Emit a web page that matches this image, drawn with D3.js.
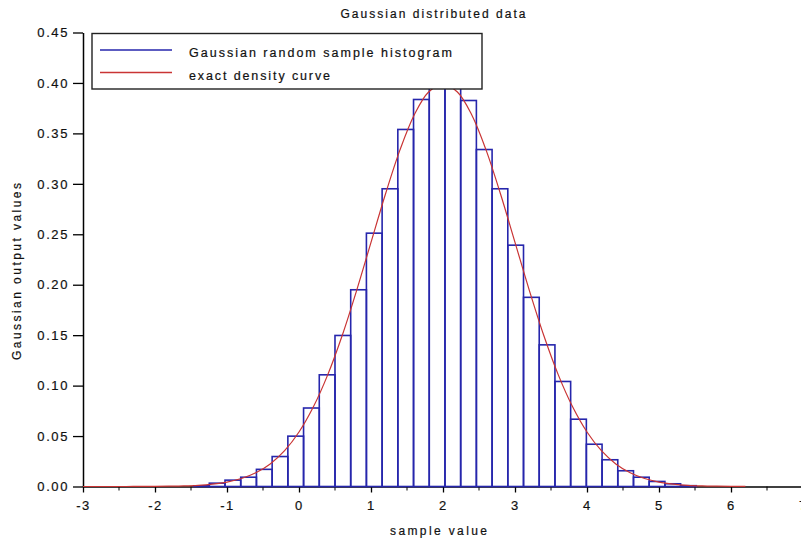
<!DOCTYPE html>
<html>
<head>
<meta charset="utf-8">
<script src="https://cdn.jsdelivr.net/npm/d3@7"></script>
<style>
  body { margin: 0; background: #fff; }
  text { font-family: "Liberation Sans", Arial, sans-serif; fill: #111; stroke: #111; stroke-width: 0.2px; }
</style>
</head>
<body>
<svg id="chart" width="801" height="543"></svg>
<script>
// Histogram of the random sample (density-normalised), equal-width bins
const binStart = -1.464;
const binWidth = 0.2182;
const histDensity = [
  0.0007, 0.0033, 0.0063, 0.0092, 0.0170, 0.0297, 0.0499, 0.0778,
  0.1107, 0.1497, 0.1950, 0.2511, 0.2951, 0.3539, 0.3836, 0.4010,
  0.3975, 0.3826, 0.3340, 0.2951, 0.2392, 0.1875, 0.1404, 0.1041,
  0.0667, 0.0419, 0.0265, 0.0156, 0.0092, 0.0050, 0.0027, 0.0008
];

// Exact normal density (mean 2, sd 1) tabulated for the curve
const curveX = [
  -3, -2.8, -2.6, -2.4, -2.2, -2, -1.8, -1.6, -1.4, -1.2, -1, -0.8, -0.6, -0.4, -0.2,
  0, 0.2, 0.4, 0.6, 0.8, 1, 1.2, 1.4, 1.6, 1.8, 2, 2.2, 2.4, 2.6, 2.8,
  3, 3.2, 3.4, 3.6, 3.8, 4, 4.2, 4.4, 4.6, 4.8, 5, 5.2, 5.4, 5.6, 5.8, 6, 6.2
];
const curveY = [
  0.0000, 0.0000, 0.0000, 0.0000, 0.0001, 0.0001, 0.0003, 0.0006, 0.0012, 0.0024,
  0.0044, 0.0079, 0.0136, 0.0224, 0.0355, 0.0540, 0.0790, 0.1109, 0.1497, 0.1942,
  0.2420, 0.2897, 0.3332, 0.3683, 0.3910, 0.3989, 0.3910, 0.3683, 0.3332, 0.2897,
  0.2420, 0.1942, 0.1497, 0.1109, 0.0790, 0.0540, 0.0355, 0.0224, 0.0136, 0.0079,
  0.0044, 0.0024, 0.0012, 0.0006, 0.0003, 0.0001, 0.0001
];

const xTickValues = [-3, -2, -1, 0, 1, 2, 3, 4, 5, 6, 7];
const xMinorTicks = [-2.5, -1.5, -0.5, 0.5, 1.5, 2.5, 3.5, 4.5, 5.5, 6.5];
const yTickValues = [0, 0.05, 0.10, 0.15, 0.20, 0.25, 0.30, 0.35, 0.40, 0.45];
const legendLabels = ["Gaussian random sample histogram", "exact density curve"];
const titleText = "Gaussian distributed data";
const xLabel = "sample value";
const yLabel = "Gaussian output values";

const histColor = "#2626ac";
const curveColor = "#c93434";

const svg = d3.select("#chart");

const x = d3.scaleLinear().domain([-3, 7]).range([83, 803]);
const y = d3.scaleLinear().domain([0, 0.45]).range([486.5, 32.5]);

// Axes
const xAxis = d3.axisBottom(x)
  .tickValues(xTickValues)
  .tickSize(6)
  .tickSizeOuter(0)
  .tickPadding(8)
  .tickFormat(d => String(d));

const gx = svg.append("g")
  .attr("transform", `translate(0,${y(0)})`)
  .call(xAxis);

gx.selectAll(".minor")
  .data(xMinorTicks)
  .enter().append("line")
  .attr("class", "minor")
  .attr("x1", d => x(d)).attr("x2", d => x(d))
  .attr("y1", 0).attr("y2", 4)
  .attr("stroke", "#000");

const yAxis = d3.axisLeft(y)
  .tickValues(yTickValues)
  .tickSize(10)
  .tickSizeOuter(0)
  .tickPadding(4)
  .tickFormat(d3.format(".2f"));

const gy = svg.append("g")
  .attr("transform", `translate(${x(-3)},0)`)
  .call(yAxis);

[gx, gy].forEach(g => {
  g.select(".domain").attr("stroke", "#000").attr("stroke-width", 1.5);
  g.selectAll(".tick line").attr("stroke", "#000").attr("stroke-width", 1.3);
  g.selectAll(".tick text")
    .attr("fill", "#111")
    .style("font-family", '"Liberation Sans", Arial, sans-serif')
    .style("font-size", "13px")
    .style("letter-spacing", "1.6px");
});

// Histogram bars
const bins = histDensity.map((v, i) => ({
  x0: binStart + i * binWidth,
  x1: binStart + (i + 1) * binWidth,
  v
}));

svg.append("g")
  .selectAll("rect")
  .data(bins)
  .enter().append("rect")
  .attr("x", d => x(d.x0))
  .attr("width", d => x(d.x1) - x(d.x0))
  .attr("y", d => y(d.v))
  .attr("height", d => y(0) - y(d.v))
  .attr("fill", "none")
  .attr("stroke", histColor)
  .attr("stroke-width", 1.6);

// Density curve
const line = d3.line()
  .x(d => x(d[0]))
  .y(d => y(d[1]))
  .curve(d3.curveCatmullRom);

svg.append("path")
  .datum(curveX.map((cx, i) => [cx, curveY[i]]))
  .attr("d", line)
  .attr("fill", "none")
  .attr("stroke", curveColor)
  .attr("stroke-width", 1.2);

// Legend
const legend = svg.append("g");
legend.append("rect")
  .attr("x", 92).attr("y", 33.5)
  .attr("width", 390).attr("height", 55.5)
  .attr("fill", "#fff")
  .attr("stroke", "#222")
  .attr("stroke-width", 1.4);

const legendColors = [histColor, curveColor];
const legendRows = [50, 72.5];
legendLabels.forEach((lab, i) => {
  legend.append("line")
    .attr("x1", 100).attr("x2", 172)
    .attr("y1", legendRows[i]).attr("y2", legendRows[i])
    .attr("stroke", legendColors[i])
    .attr("stroke-width", 1.3);
  legend.append("text")
    .attr("x", 189)
    .attr("y", legendRows[i] + 7)
    .attr("textLength", i === 0 ? 263 : 141)
    .attr("lengthAdjust", "spacing")
    .style("font-size", "12.5px")
    .text(lab);
});

// Title and axis labels
svg.append("text")
  .attr("x", 340.5).attr("y", 17.5)
  .attr("textLength", 185)
  .attr("lengthAdjust", "spacing")
  .style("font-size", "12px")
  .text(titleText);

svg.append("text")
  .attr("x", 390).attr("y", 535)
  .attr("textLength", 97)
  .attr("lengthAdjust", "spacing")
  .style("font-size", "12px")
  .text(xLabel);

svg.append("text")
  .attr("transform", "translate(20.5,360) rotate(-90)")
  .attr("textLength", 177)
  .attr("lengthAdjust", "spacing")
  .style("font-size", "12px")
  .text(yLabel);
</script>
</body>
</html>
